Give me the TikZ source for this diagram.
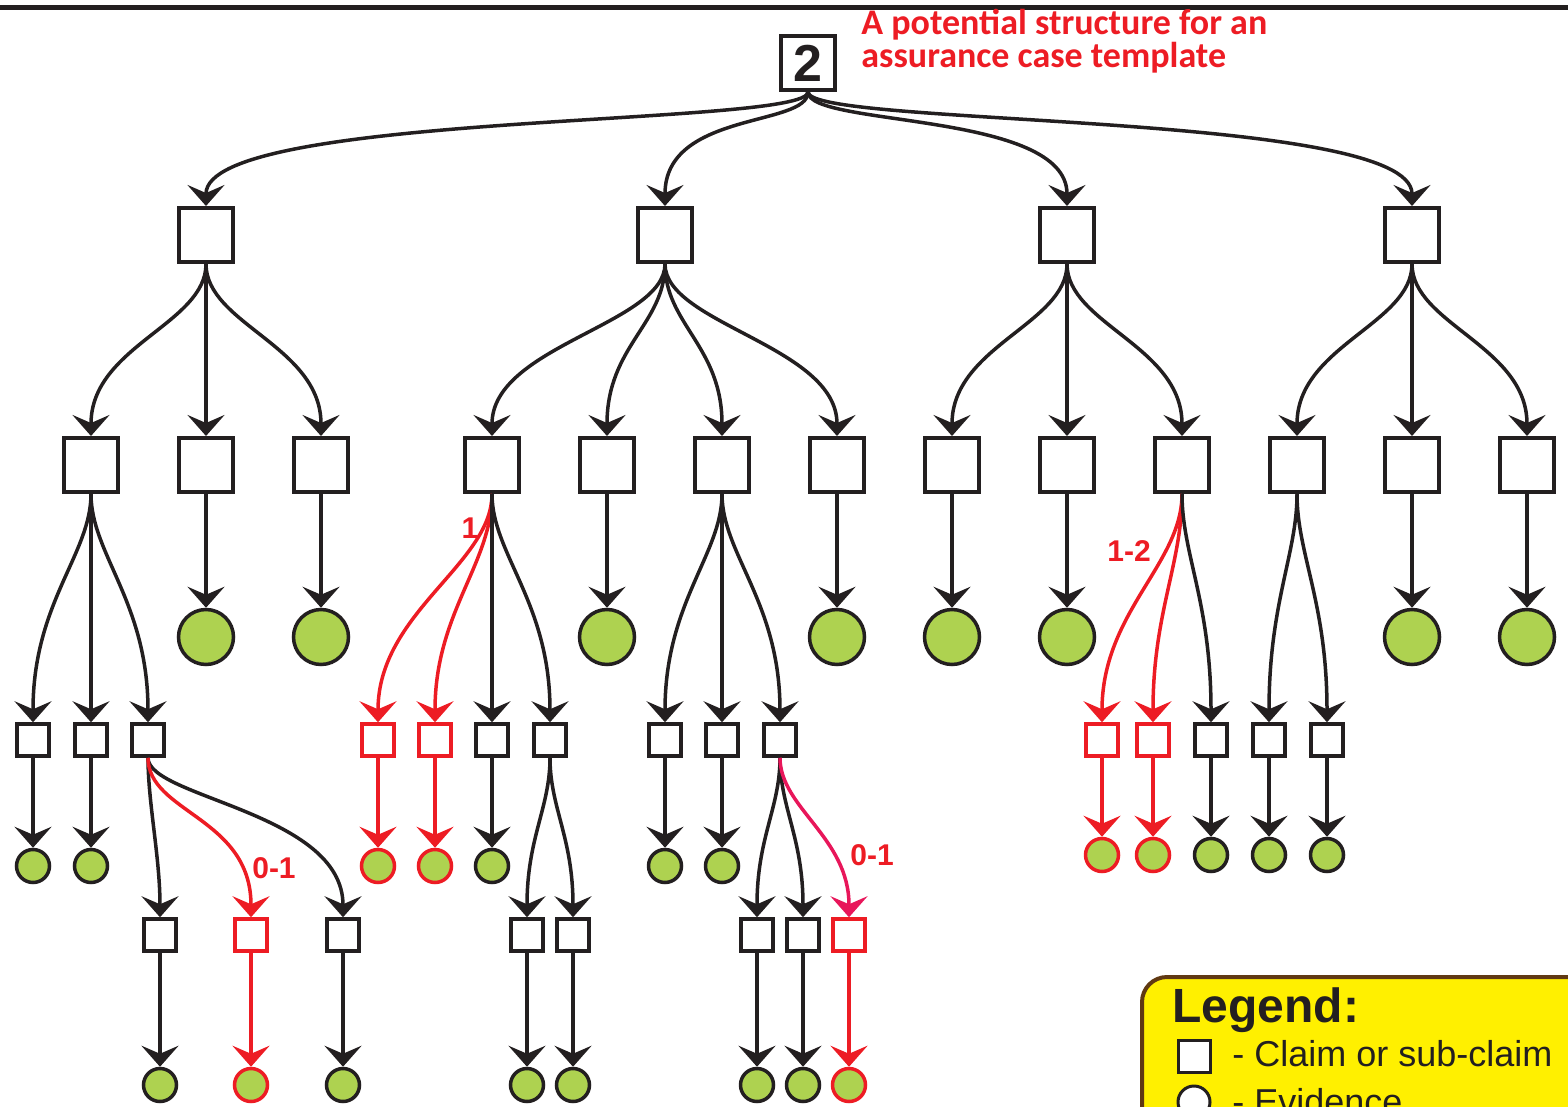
\documentclass[tikz,border=0pt]{standalone}
\usepackage{fontspec}
\setmainfont{Liberation Sans}
\newfontfamily\titlefont{Carlito}
\usetikzlibrary{arrows.meta}
\definecolor{ink}{RGB}{35,31,32}
\definecolor{alert}{RGB}{237,28,36}
\definecolor{rose}{RGB}{232,22,90}
\definecolor{leaf}{RGB}{174,210,80}
\definecolor{note}{RGB}{255,240,0}
\definecolor{frame}{RGB}{96,57,19}
\begin{document}
\begin{tikzpicture}[x=0.5pt,y=-0.5pt,
  claim/.style={draw=ink, line width=2pt, fill=white, minimum size=27pt, inner sep=0pt},
  sub/.style={draw=ink, line width=1.75pt, fill=white, minimum size=16pt, inner sep=0pt},
  evid/.style={circle, draw=ink, fill=leaf, line width=1.75pt, minimum size=27.5pt, inner sep=0pt},
  evs/.style={circle, draw=ink, fill=leaf, line width=1.75pt, minimum size=16.5pt, inner sep=0pt},
  opt/.style={draw=alert},
  conn/.style={color=ink, line width=1.75pt, -{Stealth[length=10.5pt,width=18.5pt,inset=4pt]}},
  optconn/.style={conn, color=alert},
  roseconn/.style={conn, color=rose},
  mult/.style={text=alert, font=\fontsize{15}{15}\selectfont\bfseries, inner sep=0pt}]
\useasboundingbox (0,0) rectangle (1568,1107);
\clip (0,0) rectangle (1568,1107);

% rule across the top
\draw[ink, line width=2.5pt] (0,8) -- (1568,8);

% title
\node[anchor=base west, inner sep=0pt, text=alert, font=\titlefont\fontsize{18}{18}\selectfont\bfseries] (t1) at (861,35) {A potential structure for an};
\node[anchor=base west, inner sep=0pt, text=alert, font=\titlefont\fontsize{18}{18}\selectfont\bfseries] (t2) at (861,68) {assurance case template};

% top claim
\node[claim, font=\fontsize{26}{26}\selectfont\bfseries, text=ink] (root) at (808,63) {2};

% level 1 claims
\foreach \n/\x in {a/206, b/665, c/1067, d/1412}
  \node[claim] (\n) at (\x,235) {};

% level 2 claims
\foreach \n/\x in {a1/91, a2/206, a3/321, b1/492, b2/607, b3/722, b4/837,
                   c1/952, c2/1067, c3/1182, d1/1297, d2/1412, d3/1527}
  \node[claim] (\n) at (\x,465) {};

% evidence under level 2
\foreach \n/\x in {ea2/206, ea3/321, eb2/607, eb4/837, ec1/952, ec2/1067, ed2/1412, ed3/1527}
  \node[evid] (\n) at (\x,637) {};

% sub-claims
\foreach \n/\x in {s1/33, s2/91, s3/148, s6/492, s7/550, s8/665, s9/722, s10/780,
                   s13/1211, s14/1269, s15/1327}
  \node[sub] (\n) at (\x,740) {};
\foreach \n/\x in {s4/378, s5/435, s11/1102, s12/1153}
  \node[sub, opt] (\n) at (\x,740) {};

% evidence under sub-claims
\foreach \n/\x in {v1/33, v2/91, v6/492, v8/665, v9/722}
  \node[evs] (\n) at (\x,866) {};
\foreach \n/\x in {v4/378, v5/435}
  \node[evs, opt] (\n) at (\x,866) {};
\foreach \n/\x in {v13/1211, v14/1269, v15/1327}
  \node[evs] (\n) at (\x,855) {};
\foreach \n/\x in {v11/1102, v12/1153}
  \node[evs, opt] (\n) at (\x,855) {};

% lowest sub-claims and their evidence
\foreach \n/\x in {u1/160, u3/343, u4/527, u5/573, u6/757, u7/803}
  \node[sub] (\n) at (\x,935) {};
\foreach \n/\x in {u2/251, u8/849}
  \node[sub, opt] (\n) at (\x,935) {};
\foreach \n/\x in {w1/160, w3/343, w4/527, w5/573, w6/757, w7/803}
  \node[evs] (\n) at (\x,1085) {};
\foreach \n/\x in {w2/251, w8/849}
  \node[evs, opt] (\n) at (\x,1085) {};

% top claim to level 1
\foreach \c in {a,b,c,d}
  \draw[conn] (root.south) .. controls +(0,35) and +(0,-95) .. (\c.north);

% level 1 to level 2
\foreach \p/\c in {a/a1, a/a2, a/a3, b/b1, b/b2, b/b3, b/b4, c/c1, c/c2, c/c3, d/d1, d/d2, d/d3}
  \draw[conn] (\p.south) .. controls +(0,60) and +(0,-90) .. (\c.north);

% level 2 straight to evidence
\foreach \p/\c in {a2/ea2, a3/ea3, b2/eb2, b4/eb4, c1/ec1, c2/ec2, d2/ed2, d3/ed3}
  \draw[conn] (\p.south) -- (\c.north);

% level 2 to sub-claims
\draw[optconn] (b1.south) .. controls +(0,70) and +(0,-110) .. (s4.north);
\draw[optconn] (b1.south) .. controls +(0,70) and +(0,-110) .. (s5.north);
\draw[optconn] (c3.south) .. controls +(0,70) and +(0,-110) .. (s11.north);
\draw[optconn] (c3.south) .. controls +(0,70) and +(0,-110) .. (s12.north);
\foreach \p/\c in {a1/s1, a1/s2, a1/s3, b1/s6, b1/s7, b3/s8, b3/s9, b3/s10, c3/s13, d1/s14, d1/s15}
  \draw[conn] (\p.south) .. controls +(0,60) and +(0,-120) .. (\c.north);

% sub-claims to evidence
\foreach \p/\c in {s1/v1, s2/v2, s6/v6, s8/v8, s9/v9, s13/v13, s14/v14, s15/v15}
  \draw[conn] (\p.south) -- (\c.north);
\foreach \p/\c in {s4/v4, s5/v5, s11/v11, s12/v12}
  \draw[optconn] (\p.south) -- (\c.north);

% sub-claims to lowest sub-claims
\draw[conn] (s3.south) .. controls +(0,45) and +(0,-60) .. (u1.north);
\draw[conn] (s3.south) .. controls +(0,40) and +(0,-105) .. (u3.north);
\draw[optconn] (s3.south) .. controls +(0,55) and +(0,-100) .. (u2.north);
\foreach \p/\c in {s7/u4, s7/u5, s10/u6, s10/u7}
  \draw[conn] (\p.south) .. controls +(0,50) and +(0,-80) .. (\c.north);
\draw[roseconn] (s10.south) .. controls +(0,50) and +(0,-80) .. (u8.north);

% lowest sub-claims to evidence
\foreach \p/\c in {u1/w1, u3/w3, u4/w4, u5/w5, u6/w6, u7/w7}
  \draw[conn] (\p.south) -- (\c.north);
\foreach \p/\c in {u2/w2, u8/w8}
  \draw[optconn] (\p.south) -- (\c.north);

% multiplicities
\node[mult] (m1) at (470,528) {1};
\node[mult] (m2) at (1129,551) {1-2};
\node[mult] (m3) at (274,868) {0-1};
\node[mult] (m4) at (872,855) {0-1};

% legend
\draw[draw=frame, fill=note, line width=2pt, rounded corners=12.5pt] (1142,977) rectangle (1640,1180);
\node[anchor=base west, inner sep=0pt, text=ink, font=\fontsize{24}{24}\selectfont\bfseries] (lg) at (1172,1022) {Legend:};
\node[sub, line width=1.5pt, minimum size=16pt] (lsq) at (1194,1056) {};
\node[anchor=base west, inner sep=0pt, text=ink, font=\fontsize{18}{18}\selectfont] (lsqt) at (1232,1066) {- Claim or sub-claim};
\node[circle, draw=ink, fill=white, line width=1.5pt, minimum size=16pt, inner sep=0pt] (lci) at (1194,1102) {};
\node[anchor=base west, inner sep=0pt, text=ink, font=\fontsize{18}{18}\selectfont] (lcit) at (1232,1114) {- Evidence};
\end{tikzpicture}
\end{document}
